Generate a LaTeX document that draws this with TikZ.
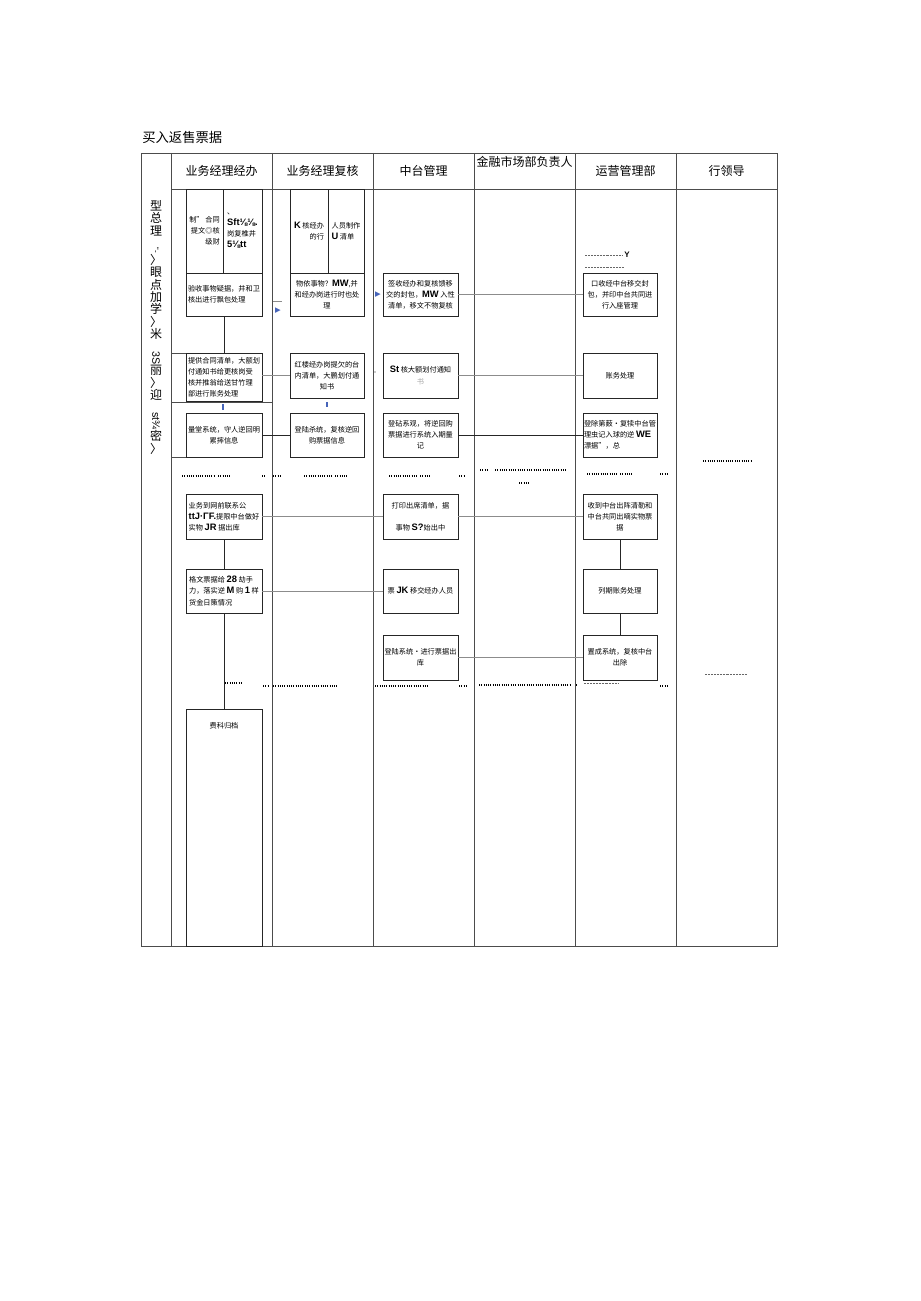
\documentclass[tikz,border=0pt]{standalone}
\usepackage{fontspec}
\setmainfont{Noto Sans CJK SC}
\newfontfamily\latinfont{Liberation Sans}
\newfontfamily\symfont{DejaVu Sans}
\usetikzlibrary{positioning}
\definecolor{markblue}{RGB}{70,100,185}
\newcommand{\bl}[1]{{\latinfont\bfseries\fontsize{7}{8.3}\selectfont #1}}

\begin{document}
\begin{tikzpicture}[x=0.75pt, y=-0.75pt,
    lane/.style={draw=black!70, line width=0.6pt},
    stepbox/.style={
        rectangle, draw=black!85, line width=0.6pt,
        minimum width=57pt, minimum height=33pt,
        align=center, inner sep=0.5pt,
        font=\fontsize{5.4}{8.3}\selectfont
    },
    halfbox/.style={stepbox, minimum height=63pt},
    head/.style={font=\fontsize{9}{10}\selectfont, inner sep=0pt},
    link/.style={black!45, line width=0.7pt},
    dlink/.style={black!85, line width=0.6pt},
    dotrow/.style={line width=0.9pt, dash pattern=on 0.7pt off 1pt},
    thindots/.style={black!60, line width=0.4pt, dash pattern=on 0.5pt off 0.6pt},
    tickline/.style={markblue, line width=0.8pt},
    arrowmark/.style={text=markblue, font=\symfont\fontsize{5.5}{5.5}\selectfont, inner sep=0pt}
]
\useasboundingbox (0,0) rectangle (920,1301);

% --- Title ---
\node[anchor=west, font=\fontsize{10}{12}\selectfont, inner sep=0pt] (title) at (142,137) {买入返售票据};

% --- Lanes ---
\draw[lane] (141,153) rectangle (777,946);
\foreach \x in {171,272,373,474,575,676}
    \draw[lane] (\x,153) -- (\x,946);
\draw[lane] (171,189) -- (777,189);
\draw[lane] (171,353) -- (186,353);
\draw[lane] (171,402) -- (272,402);
\draw[lane] (171,457) -- (186,457);

\node[head] (h1) at (221.5,171) {业务经理经办};
\node[head] (h2) at (322.5,171) {业务经理复核};
\node[head] (h3) at (423.5,171) {中台管理};
\node[head] (h4) at (524.5,162) {金融市场部负责人};
\node[head] (h5) at (625.5,171) {运营管理部};
\node[head] (h6) at (726.5,171) {行领导};

\node[anchor=north, align=center, inner sep=0pt, font=\fontsize{9}{9.3}\selectfont] (side) at (156,200) {
    型\\总\\理\\\rotatebox{-90}{\latinfont\fontsize{6}{6}\selectfont “-}\\〉\\眼\\点\\加\\学\\〉\\米\\
    \rotatebox{-90}{\latinfont\fontsize{8}{8}\selectfont 3S}\\丽\\〉\\迎\\\rotatebox{-90}{\latinfont\fontsize{8}{8}\selectfont st¾}\\密\\〉
};

% --- 业务经理经办 ---
\node[halfbox, minimum width=27.75pt, align=right] (a1l) at (204.5,231) {制” 合同\\提文◎核\\级财};
\node[halfbox, minimum width=29.25pt, align=left] (a1r) at (242.5,231) {、\\\bl{Sft⅛⅛.}\\岗复椎井\\\bl{5⅛tt}};
\node[stepbox, minimum height=32.25pt, align=left] (a2) at (224,294.5) {验收事物疑据，井和卫\\核出进行飘包处理};
\node[stepbox, minimum height=36pt, align=left] (a3) at (224,377) {提供合同清单，大额划\\付通知书给更核岗受\\核并推翁给送甘竹理\\部进行账务处理};
\node[stepbox] (a4) at (224,435) {量堂系统，守人逆回明\\累摔信息};
\node[stepbox, minimum height=33.75pt, align=left] (a5) at (224,516.5) {业务到网前联系公\\\bl{ttJ·ΓF.}提限中台做好\\实物 \bl{JR} 据出库};
\node[stepbox, align=left] (a6) at (224,591) {格文票据给 \bl{28} 劫手\\力，落实逆 \bl{M} 购 \bl{1} 样\\货金日策情况};
\node[stepbox, minimum height=177.75pt, anchor=north] (a7) at (224,709) {};
\node[font=\fontsize{5.4}{8.3}\selectfont, inner sep=0pt] (a7t) at (224,726) {费科归档};

% --- 业务经理复核 ---
\node[halfbox, minimum width=28.5pt, align=right] (b1l) at (309,231) {\bl{K} 核经办\\的行};
\node[halfbox, minimum width=27pt, align=left] (b1r) at (346,231) {人员制作\\\bl{U} 清单};
\node[stepbox, minimum width=55.5pt, minimum height=32.25pt] (b2) at (327,294.5) {物依事物？\bl{MW},并\\和经办岗进行时也处\\理};
\node[stepbox, minimum width=55.5pt, minimum height=33.75pt] (b3) at (327,375.5) {红楼经办岗提欠的台\\内清单，大鹏划付通\\知书};
\node[stepbox, minimum width=55.5pt] (b4) at (327,435) {登陆杀统，复核逆回\\购票据信息};

% --- 中台管理 ---
\node[stepbox, minimum width=56.25pt, minimum height=32.25pt] (c1) at (420.5,294.5) {签收经办和复核馈移\\交的封包，\bl{MW} 入性\\清单，移文不物复核};
\node[stepbox, minimum width=56.25pt, minimum height=33.75pt] (c2) at (420.5,375.5) {\bl{St} 核大额划付通知\\{\color{black!35}书}};
\node[stepbox, minimum width=56.25pt] (c3) at (420.5,435) {登砧系观，将逆回购\\票据进行系统入期量\\记};
\node[stepbox, minimum width=56.25pt, minimum height=33.75pt] (c4) at (420.5,516.5) {打印出席清单，据\\[8.5pt]事物 \bl{S?}始出中};
\node[stepbox, minimum width=56.25pt] (c5) at (420.5,591) {票 \bl{JK} 移交经办人员};
\node[stepbox, minimum width=56.25pt, minimum height=33.75pt] (c6) at (420.5,657.5) {登陆系统·进行票据出\\库};

% --- 运营管理部 ---
\node[stepbox, minimum width=55.5pt, minimum height=32.25pt] (e1) at (620,294.5) {口收经中台移交封\\包，并印中台共同进\\行入座管理};
\node[stepbox, minimum width=55.5pt, minimum height=33.75pt] (e2) at (620,375.5) {账务处理};
\node[stepbox, minimum width=55.5pt, align=left] (e3) at (620,435) {登除第薮·复犊中台管\\理虫记入球的逆 \bl{WE}\\漂据”，总};
\node[stepbox, minimum width=55.5pt, minimum height=33.75pt] (e4) at (620,516.5) {收到中台出阵清勒和\\中台共同出嘀实物票\\据};
\node[stepbox, minimum width=55.5pt] (e5) at (620,591) {列期账务处理};
\node[stepbox, minimum width=55.5pt, minimum height=33.75pt] (e6) at (620,657.5) {置成系统，复核中台\\出除};
\node[font=\latinfont\bfseries\fontsize{6}{6}\selectfont, inner sep=0pt] (ymark) at (627,255) {Y};

% --- Marks ---
\node[arrowmark] (mk1) at (278,311) {▶};
\node[arrowmark] (mk2) at (378,295) {▶};
\draw[link] (273,301) -- (282,301);
\draw[tickline] (223,404) -- (223,410);
\draw[tickline] (327,402) -- (327,407);
\fill[black!40] (375,372) circle (0.8);

% --- Dotted rows ---
\draw[thindots] (585,255) -- (623,255);
\draw[thindots] (585,267) -- (624,267);
\draw[dotrow] (182,476) -- (215,476);
\draw[dotrow] (218,476) -- (230,476);
\draw[dotrow] (262,476) -- (265,476);
\draw[dotrow] (273,476) -- (281,476);
\draw[dotrow] (304,476) -- (332,476);
\draw[dotrow] (335,476) -- (348,476);
\draw[dotrow] (389,476) -- (417,476);
\draw[dotrow] (420,476) -- (430,476);
\draw[dotrow] (459,476) -- (464,476);
\draw[dotrow] (480,470) -- (487,470);
\draw[dotrow] (495,470) -- (566,470);
\draw[dotrow] (519,483) -- (530,483);
\draw[dotrow] (587,474) -- (617,474);
\draw[dotrow] (620,474) -- (632,474);
\draw[dotrow] (660,474) -- (668,474);
\draw[dotrow] (703,461) -- (752,461);
\draw[dotrow] (225,683) -- (241,683);
\draw[dotrow] (263,686) -- (268,686);
\draw[dotrow] (273,686) -- (338,686);
\draw[dotrow] (375,686) -- (429,686);
\draw[dotrow] (459,686) -- (467,686);
\draw[dotrow] (479,685) -- (570,685);
\draw[dotrow] (576,685) -- (578,685);
\draw[thindots] (584,683) -- (619,683);
\draw[dotrow] (660,686) -- (668,686);
\draw[thindots] (705,674) -- (747,674);

% --- Connectors ---
\draw[dlink] (a2.south) -- (a3.north);
\draw[dlink] (a5.south) -- (a6.north);
\draw[dlink] (a6.south) -- (a7.north);
\draw[dlink] (e4.south) -- (e5.north);
\draw[dlink] (e5.south) -- (e6.north);
\draw[link] (c1.east) -- (e1.west);
\draw[link] (a3.east |- b3.west) -- (b3.west);
\draw[link] (c2.east) -- (e2.west);
\draw[dlink] (a4.east) -- (b4.west);
\draw[dlink] (c3.east) -- (e3.west);
\draw[link] (a5.east) -- (c4.west);
\draw[link] (c4.east) -- (e4.west);
\draw[link] (a6.east) -- (c5.west);
\draw[link] (c6.east) -- (e6.west);

\end{tikzpicture}
\end{document}
